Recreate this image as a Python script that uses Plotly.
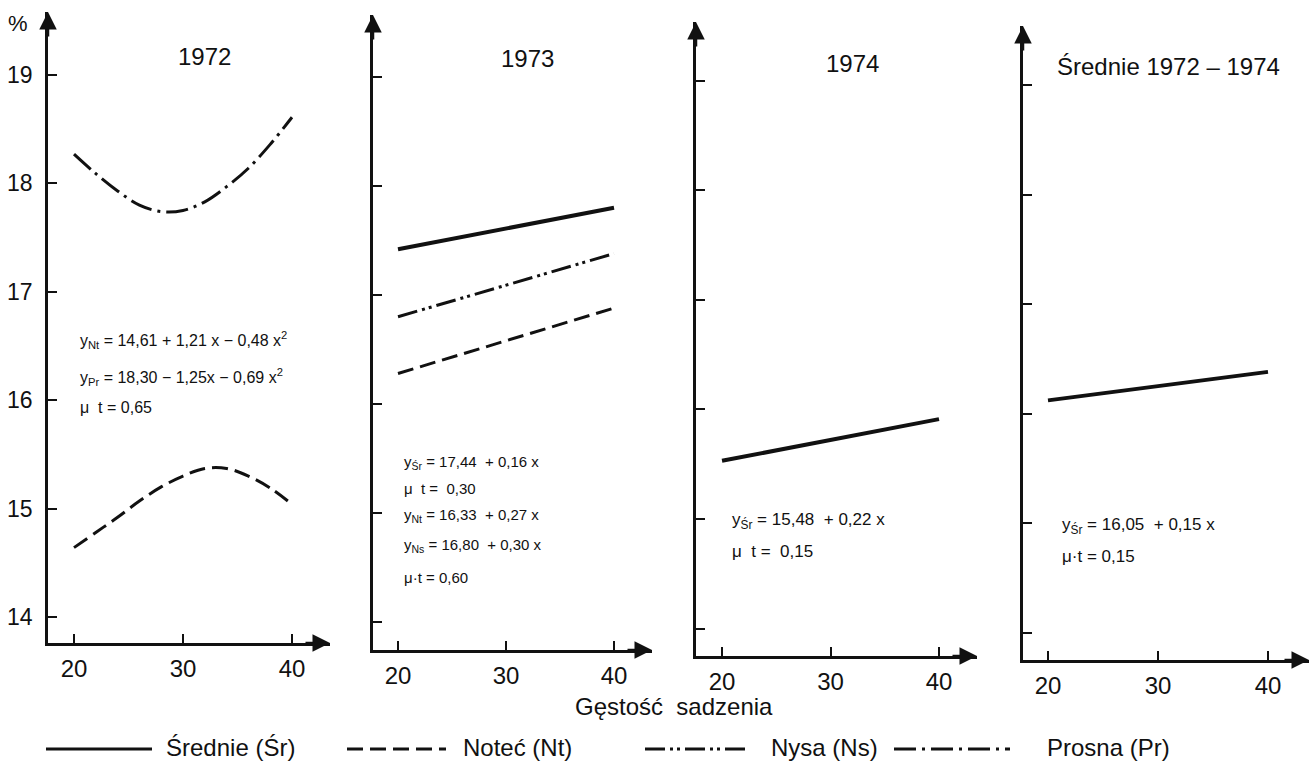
import plotly.graph_objects as go

# ---------------- data ----------------
density_curve = [20, 22, 24, 26, 28, 30, 32, 34, 36, 38, 40]
nt_1972 = [14.64, 14.78, 14.92, 15.07, 15.20, 15.30, 15.37, 15.37, 15.30, 15.19, 15.04]
pr_1972 = [18.27, 18.09, 17.93, 17.80, 17.74, 17.75, 17.83, 17.97, 18.14, 18.36, 18.61]

density_line = [20, 40]
sr_1973 = [17.42, 17.80]
ns_1973 = [16.80, 17.38]
nt_1973 = [16.28, 16.88]
sr_1974 = [15.53, 15.91]
sr_mean = [16.12, 16.38]

x_ticks = [20, 30, 40]
y_ticks = [14, 15, 16, 17, 18, 19]
panel_titles = ["1972", "1973", "1974", "Średnie 1972 – 1974"]
x_title = "Gęstość  sadzenia"
legend_labels = ["Średnie (Śr)", "Noteć (Nt)", "Nysa (Ns)", "Prosna (Pr)"]

eq_1972 = ["y<sub>Nt</sub> = 14,61 + 1,21 x − 0,48 x<sup>2</sup>",
           "y<sub>Pr</sub> = 18,30 − 1,25x − 0,69 x<sup>2</sup>",
           "μ  t = 0,65"]
eq_1973 = ["y<sub>Śr</sub> = 17,44  + 0,16 x",
           "μ  t =  0,30",
           "y<sub>Nt</sub> = 16,33  + 0,27 x",
           "y<sub>Ns</sub> = 16,80  + 0,30 x",
           "μ·t = 0,60"]
eq_1974 = ["y<sub>Śr</sub> = 15,48  + 0,22 x", "μ  t =  0,15"]
eq_mean = ["y<sub>Śr</sub> = 16,05  + 0,15 x", "μ·t = 0,15"]

# ---------------- styles ----------------
W, H = 1315, 777
FONT = "Liberation Sans, Arial, sans-serif"
BLACK = "#111111"
DASH_NT = "16px,7px"
DASH_NS = "20px,5px,3px,4px,3px,5px"
DASH_PR = "22px,6px,3px,6px"

# panel geometry in pixels: y-axis x, x-axis y, x pixel of 20 and 40, right arrow tip,
# y pixel of 19 and 14, top arrow tip
geom = [
    dict(yx=48, xy=643, x20=74, x40=292, xr=330, y19=75, y14=617, yt=12),
    dict(yx=373, xy=650, x20=398, x40=614, xr=652, y19=77, y14=622, yt=15),
    dict(yx=696, xy=656, x20=722, x40=939, xr=977, y19=80.5, y14=628.5, yt=22),
    dict(yx=1023, xy=660, x20=1048, x40=1268, xr=1309, y19=85, y14=632.5, yt=26),
]


def px(xp):
    return xp / W


def py(yp):
    return 1 - yp / H


fig = go.Figure()

series = [
    [(density_curve, nt_1972, DASH_NT, 3), (density_curve, pr_1972, DASH_PR, 3)],
    [(density_line, sr_1973, "solid", 4), (density_line, ns_1973, DASH_NS, 3),
     (density_line, nt_1973, DASH_NT, 3)],
    [(density_line, sr_1974, "solid", 4)],
    [(density_line, sr_mean, "solid", 4)],
]

layout_axes = {}
annotations = []
for i, g in enumerate(geom):
    n = "" if i == 0 else str(i + 1)
    sx = (g["x40"] - g["x20"]) / 20.0
    xr0 = 20 - (g["x20"] - g["yx"]) / sx
    xr1 = 20 + (g["xr"] - g["x20"]) / sx
    sy = (g["y14"] - g["y19"]) / 5.0
    yr0 = 14 - (g["xy"] - g["y14"]) / sy
    yr1 = 19 + (g["y19"] - g["yt"]) / sy
    common = dict(showgrid=False, zeroline=False, showline=True, linewidth=2.5,
                  linecolor=BLACK, ticks="inside", ticklen=9, tickwidth=2,
                  tickcolor=BLACK, fixedrange=True)
    layout_axes["xaxis" + n] = dict(range=[xr0, xr1], domain=[px(g["yx"]), px(g["xr"])],
                                    anchor="y" + n, tickvals=x_ticks,
                                    tickfont=dict(family=FONT, size=24, color=BLACK),
                                    ticklabelstandoff=2, **common)
    layout_axes["yaxis" + n] = dict(range=[yr0, yr1], domain=[py(g["xy"]), py(g["yt"])],
                                    anchor="x" + n, tickvals=y_ticks,
                                    showticklabels=(i == 0),
                                    tickfont=dict(family=FONT, size=23, color=BLACK),
                                    ticklabelstandoff=8, **common)
    for xs, ys, dash, w in series[i]:
        fig.add_trace(go.Scatter(x=xs, y=ys, mode="lines", xaxis="x" + n, yaxis="y" + n,
                                 line=dict(color=BLACK, width=w, dash=dash, shape="spline"),
                                 showlegend=False, hoverinfo="skip"))
    # arrow heads
    annotations.append(dict(x=px(g["yx"]), y=py(g["yt"]), xref="paper", yref="paper",
                            text="", showarrow=True, ax=0, ay=26, arrowhead=2,
                            arrowsize=1.4, arrowwidth=2.5, arrowcolor=BLACK, standoff=0))
    annotations.append(dict(x=px(g["xr"]), y=py(g["xy"]), xref="paper", yref="paper",
                            text="", showarrow=True, ax=-26, ay=0, arrowhead=2,
                            arrowsize=1.4, arrowwidth=2.5, arrowcolor=BLACK, standoff=0))

# titles
title_pos = [(204, 56), (527, 58), (852, 64), (1168, 66)]
for t, (x, y) in zip(panel_titles, title_pos):
    annotations.append(dict(x=px(x), y=py(y), xref="paper", yref="paper", text=t,
                            showarrow=False, xanchor="center", yanchor="middle",
                            font=dict(family=FONT, size=24, color=BLACK)))

# percent sign
annotations.append(dict(x=px(18), y=py(23), xref="paper", yref="paper", text="%",
                        showarrow=False, xanchor="center", yanchor="middle",
                        font=dict(family=FONT, size=22, color=BLACK)))


def add_eqs(lines, x, ys, size):
    for txt, y in zip(lines, ys):
        annotations.append(dict(x=px(x), y=py(y), xref="paper", yref="paper", text=txt,
                                showarrow=False, xanchor="left", yanchor="middle",
                                font=dict(family=FONT, size=size, color=BLACK)))


add_eqs(eq_1972, 78, [340, 377, 408], 16)
add_eqs(eq_1973, 402, [462, 488, 515, 545, 577], 15)
add_eqs(eq_1974, 730, [521, 551], 17)
add_eqs(eq_mean, 1060, [526, 556], 17)

# x title
annotations.append(dict(x=px(674), y=py(706), xref="paper", yref="paper", text=x_title,
                        showarrow=False, xanchor="center", yanchor="middle",
                        font=dict(family=FONT, size=24, color=BLACK)))

# legend (drawn manually)
shapes = []
leg = [(46, 152, 164, "solid", 3), (347, 446, 461, DASH_NT, 3),
       (645, 745, 769, DASH_NS, 3), (894, 1010, 1045, DASH_PR, 3)]
for (x0, x1, xt, dash, w), lab in zip(leg, legend_labels):
    shapes.append(dict(type="line", xref="paper", yref="paper", x0=px(x0), x1=px(x1),
                       y0=py(749), y1=py(749), line=dict(color=BLACK, width=w, dash=dash)))
    annotations.append(dict(x=px(xt), y=py(747), xref="paper", yref="paper", text=lab,
                            showarrow=False, xanchor="left", yanchor="middle",
                            font=dict(family=FONT, size=24, color=BLACK)))

fig.update_layout(width=W, height=H, autosize=False,
                  margin=dict(l=0, r=0, t=0, b=0, pad=0),
                  paper_bgcolor="white", plot_bgcolor="white",
                  showlegend=False, hovermode=False,
                  annotations=annotations, shapes=shapes, **layout_axes)

fig.write_html("out.html", config={"displayModeBar": False},
               post_script="document.body.style.margin='0';")
